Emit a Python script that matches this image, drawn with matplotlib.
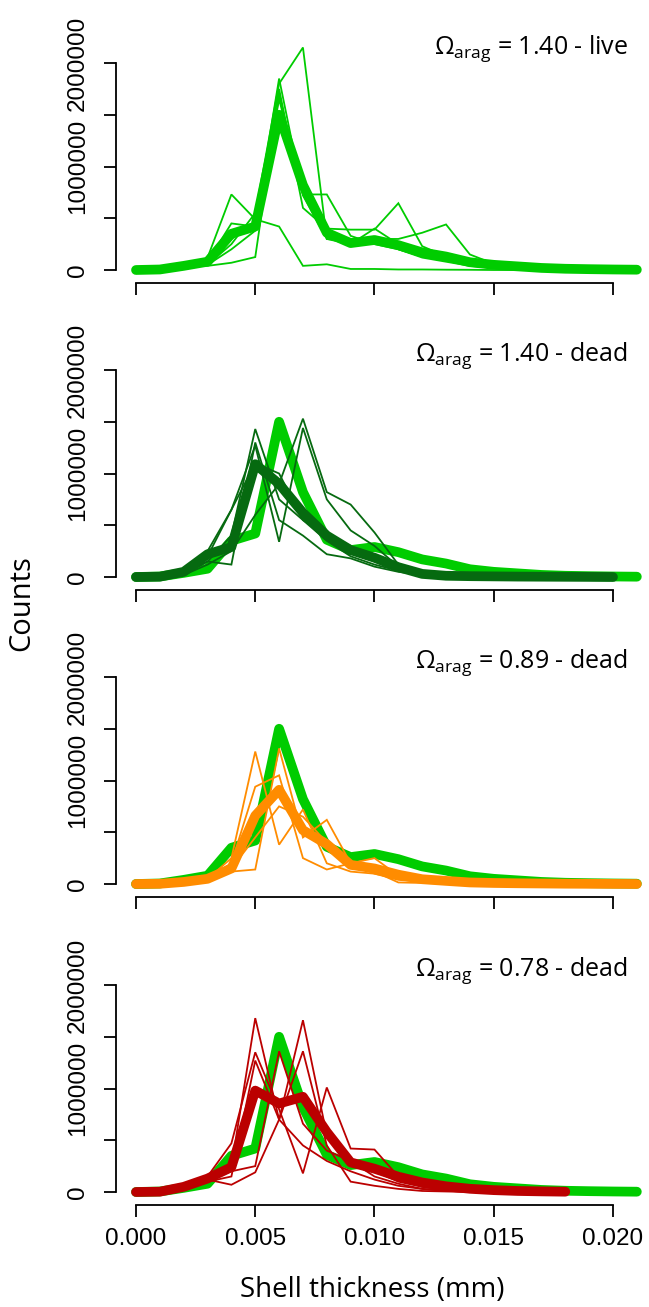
import matplotlib
matplotlib.use("Agg")
import matplotlib.pyplot as plt

# shell thickness bins (mm)
thickness = [0.000, 0.001, 0.002, 0.003, 0.004, 0.005, 0.006, 0.007, 0.008, 0.009, 0.010,
             0.011, 0.012, 0.013, 0.014, 0.015, 0.016, 0.017, 0.018, 0.019, 0.020, 0.021]

# live, omega 1.40 (mean + replicates)
live_mean = [0, 5000, 40000, 80000, 350000, 420000, 1500000, 820000, 360000, 260000, 290000,
             240000, 170000, 130000, 75000, 50000, 35000, 20000, 12000, 8000, 5000, 3000]
live_reps = [
    [0, 0, 30000, 60000, 300000, 450000, 1850000, 720000, 300000, 250000, 400000,
     250000, 150000, 100000, 50000, 20000, 10000, 5000, 0, 0, 0, 0],
    [0, 0, 20000, 50000, 250000, 550000, 1800000, 2150000, 300000, 280000, 300000,
     200000, 120000, 80000, 40000, 20000, 10000, 5000, 0, 0, 0, 0],
    [0, 0, 20000, 120000, 730000, 490000, 420000, 40000, 55000, 10000, 10000,
     5000, 5000, 3000, 2000, 0, 0, 0, 0, 0, 0, 0],
    [0, 0, 30000, 80000, 450000, 420000, 1750000, 600000, 400000, 390000, 390000,
     645000, 230000, 130000, 60000, 30000, 15000, 5000, 0, 0, 0, 0],
    [0, 0, 20000, 50000, 200000, 380000, 1650000, 750000, 330000, 300000, 300000,
     300000, 360000, 440000, 150000, 60000, 20000, 5000, 0, 0, 0, 0],
    [0, 0, 30000, 40000, 70000, 125000, 1700000, 730000, 730000, 330000, 250000,
     200000, 130000, 90000, 50000, 30000, 15000, 5000, 0, 0, 0, 0],
]

# dead, omega 1.40
dead140_mean = [0, 3000, 50000, 220000, 290000, 1090000, 900000, 620000, 400000, 260000, 186000,
                95000, 30000, 12000, 8000, 6000, 4000, 3000, 2000, 1000, 0]
dead140_reps = [
    [0, 0, 30000, 150000, 400000, 1430000, 750000, 550000, 400000, 250000, 150000,
     80000, 40000, 20000, 10000, 5000, 0, 0, 0, 0, 0],
    [0, 0, 20000, 120000, 250000, 600000, 900000, 1530000, 820000, 700000, 430000,
     120000, 50000, 30000, 10000, 5000, 0, 0, 0, 0, 0],
    [0, 0, 30000, 200000, 650000, 1270000, 340000, 1440000, 750000, 450000, 300000,
     100000, 40000, 20000, 10000, 5000, 0, 0, 0, 0, 0],
    [0, 0, 40000, 250000, 650000, 1100000, 1000000, 550000, 350000, 200000, 120000,
     60000, 30000, 10000, 5000, 0, 0, 0, 0, 0, 0],
    [0, 0, 20000, 150000, 120000, 1300000, 550000, 400000, 220000, 180000, 100000,
     50000, 20000, 10000, 5000, 0, 0, 0, 0, 0, 0],
]

# dead, omega 0.89
dead089_mean = [0, 2000, 20000, 50000, 150000, 660000, 910000, 520000, 385000, 185000, 150000,
                90000, 46000, 30000, 15000, 10000, 7000, 5000, 3000, 2000, 1000, 0]
dead089_reps = [
    [0, 0, 20000, 50000, 250000, 1280000, 380000, 720000, 200000, 120000, 100000,
     50000, 30000, 10000, 5000, 0, 0, 0, 0, 0, 0, 0],
    [0, 0, 20000, 50000, 120000, 140000, 1310000, 450000, 620000, 200000, 100000,
     40000, 20000, 10000, 5000, 0, 0, 0, 0, 0, 0, 0],
    [0, 0, 20000, 60000, 200000, 940000, 1050000, 250000, 140000, 200000, 250000,
     80000, 40000, 20000, 5000, 0, 0, 0, 0, 0, 0, 0],
    [0, 0, 20000, 50000, 150000, 450000, 750000, 650000, 400000, 180000, 120000,
     15000, 10000, 5000, 0, 0, 0, 0, 0, 0, 0, 0],
]

# dead, omega 0.78
dead078_mean = [0, 3000, 50000, 130000, 240000, 980000, 855000, 920000, 580000, 286000, 225000,
                148000, 92000, 55000, 31000, 18000, 10000, 6000, 3000]
dead078_reps = [
    [0, 0, 30000, 100000, 250000, 1680000, 700000, 450000, 300000, 200000, 120000,
     60000, 30000, 10000, 5000, 0, 0, 0, 0],
    [0, 0, 30000, 120000, 70000, 190000, 700000, 1660000, 550000, 300000, 150000,
     80000, 30000, 10000, 5000, 0, 0, 0, 0],
    [0, 0, 40000, 150000, 470000, 1350000, 800000, 180000, 1010000, 420000, 410000,
     150000, 50000, 20000, 10000, 5000, 0, 0, 0],
    [0, 0, 30000, 100000, 150000, 1270000, 700000, 1360000, 450000, 100000, 60000,
     30000, 10000, 5000, 0, 0, 0, 0, 0],
    [0, 0, 30000, 120000, 200000, 250000, 1360000, 660000, 400000, 300000, 200000,
     100000, 50000, 20000, 10000, 5000, 0, 0, 0],
]

panel_labels = ["1.40 - live", "1.40 - dead", "0.89 - dead", "0.78 - dead"]
yticks = [0, 500000, 1000000, 1500000, 2000000]
ytick_labels = ["0", "", "1000000", "", "2000000"]
xticks = [0.000, 0.005, 0.010, 0.015, 0.020]
xtick_labels = ["0.000", "0.005", "0.010", "0.015", "0.020"]

GREEN = "#00cc00"
panels = [
    (live_mean, live_reps, GREEN),
    (dead140_mean, dead140_reps, "#066a10"),
    (dead089_mean, dead089_reps, "#ff8c00"),
    (dead078_mean, dead078_reps, "#bb0000"),
]

TXT = ["Open Sans", "DejaVu Sans"]
TICK = ["Liberation Sans", "DejaVu Sans"]
plt.rcParams["mathtext.fontset"] = "custom"
plt.rcParams["mathtext.rm"] = "Open Sans"

W, H = 649, 1307
fig = plt.figure(figsize=(W / 100, H / 100), dpi=100)

left_px, right_px = 116, 649
ax_h = 250
bottoms_px = [283, 590, 897, 1205]

thick = dict(lw=7, solid_capstyle="round", solid_joinstyle="round")
thin = dict(lw=1.3, solid_joinstyle="miter")

for i, (mean, reps, col) in enumerate(panels):
    b = bottoms_px[i]
    ax = fig.add_axes([left_px / W, 1 - b / H, (right_px - left_px) / W, ax_h / H])
    if i > 0:
        ax.plot(thickness[:len(live_mean)], live_mean, color=GREEN, zorder=2, **thick)
    for r in reps:
        ax.plot(thickness[:len(r)], r, color=col, zorder=3, **thin)
    ax.plot(thickness[:len(mean)], mean, color=col, zorder=4, **thick)

    ax.set_xlim(-0.000839, 0.02151)
    ax.set_ylim(-125600, 2290000)
    for s in ["top", "right"]:
        ax.spines[s].set_visible(False)
    ax.spines["left"].set_bounds(0, 2000000)
    ax.spines["bottom"].set_bounds(0, 0.020)
    for s in ["left", "bottom"]:
        ax.spines[s].set_linewidth(1.3)
    ax.tick_params(length=8.5, width=1.3, direction="out")
    ax.tick_params(axis="y", pad=11)
    ax.tick_params(axis="x", pad=8)
    ax.set_yticks(yticks)
    ax.set_yticklabels(ytick_labels, rotation=90, va="center", family=TICK, fontsize=17.5)
    ax.set_xticks(xticks)
    if i == 3:
        ax.set_xticklabels(xtick_labels, family=TICK, fontsize=17.5)
    else:
        ax.set_xticklabels([])

    ax.text(0.96, 0.915, r"$\Omega_{\mathrm{arag}}$ = " + panel_labels[i],
            transform=ax.transAxes, ha="right", va="baseline",
            family=TXT, fontsize=18)

fig.text(22 / W, 1 - 603 / H, "Counts", rotation=90, ha="center", va="center",
         family=TXT, fontsize=21)
fig.text(372 / W, 1 - 1290 / H, "Shell thickness (mm)", ha="center", va="center",
         family=TXT, fontsize=20)

fig.savefig("out.png", dpi=100)
